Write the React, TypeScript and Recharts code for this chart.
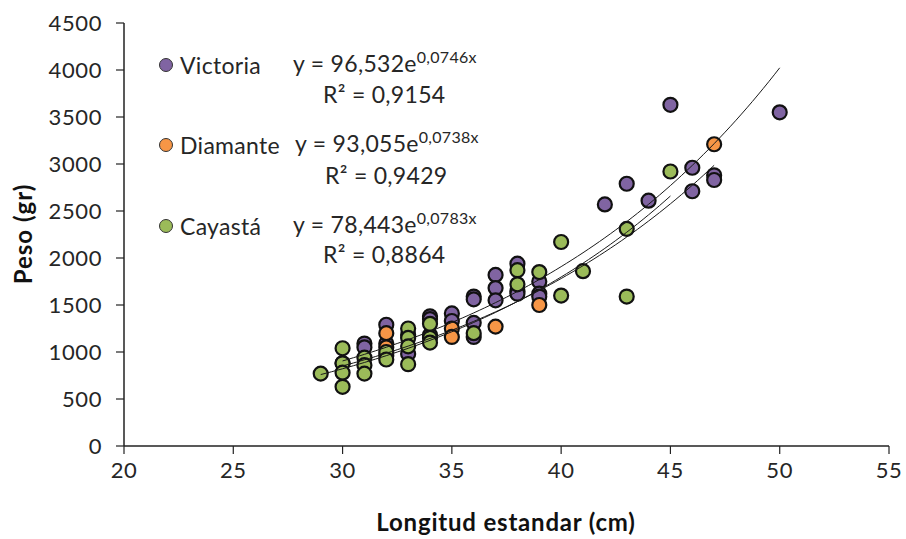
import React from "react";
import { ScatterChart, Scatter, XAxis, YAxis } from "recharts";

// Longitud estandar (cm) / Peso (gr) per population
const victoriaLength = [30, 31, 31, 32, 32, 32, 33, 33, 34, 34, 34, 35, 35, 36, 36, 36, 36, 37, 37, 37, 38, 38, 38, 39, 39, 39, 42, 43, 44, 45, 46, 46, 47, 47, 50];
const victoriaWeight = [880, 1090, 1050, 1290, 1090, 960, 1180, 980, 1380, 1350, 1180, 1410, 1330, 1590, 1560, 1310, 1160, 1820, 1680, 1550, 1940, 1650, 1620, 1750, 1620, 1590, 2570, 2790, 2610, 3630, 2960, 2710, 2880, 2830, 3550];

const diamanteLength = [32, 32, 35, 35, 37, 39, 47];
const diamanteWeight = [1200, 1050, 1250, 1160, 1270, 1500, 3210];

const cayastaLength = [29, 30, 30, 30, 30, 31, 31, 31, 32, 32, 33, 33, 33, 33, 34, 34, 34, 36, 38, 38, 39, 40, 40, 41, 43, 43, 45];
const cayastaWeight = [770, 1040, 880, 780, 630, 940, 860, 770, 1000, 920, 1250, 1150, 1060, 870, 1300, 1150, 1100, 1200, 1870, 1720, 1850, 2170, 1600, 1860, 2310, 1590, 2920];

// exponential trend lines y = a·e^(b·x), as printed on the chart
const seriesNames = ["Victoria", "Diamante", "Cayastá"];
const seriesColors = ["#8064A2", "#F79646", "#9BBB59"];
const trendA = ["96,532", "93,055", "78,443"];
const trendB = ["0,0746", "0,0738", "0,0783"];
const trendR2 = ["0,9154", "0,9429", "0,8864"];
const trendFrom = [30, 30, 29];
const trendTo = [50, 47, 45];

const xTicks = [20, 25, 30, 35, 40, 45, 50, 55];
const yTicks = [0, 500, 1000, 1500, 2000, 2500, 3000, 3500, 4000, 4500];

const toPoints = (xs: number[], ys: number[]) => xs.map((x, i) => ({ x, y: ys[i] }));
const num = (s: string) => parseFloat(s.replace(",", "."));

const trendPoints = (i: number) => {
  const a = num(trendA[i]);
  const b = num(trendB[i]);
  const pts = [];
  for (let x = trendFrom[i]; x <= trendTo[i] + 1e-9; x += 0.25) {
    pts.push({ x, y: a * Math.exp(b * x) });
  }
  return pts;
};

const FONT = "Lato, 'Open Sans', sans-serif";
const tickStyle = { fill: "#262626", fontSize: 22, fontFamily: FONT, letterSpacing: 0.6 };

const Dot = (color: string) => (props: any) => (
  <circle cx={props.cx} cy={props.cy} r={7} fill={color} stroke="#111" strokeWidth={2.2} />
);

const NoDot = () => <g />;

const legendRows = [
  { y: 65, eqX: 293, r2X: 323, r2Y: 94 },
  { y: 145, eqX: 295, r2X: 325, r2Y: 175 },
  { y: 226, eqX: 293, r2X: 323, r2Y: 254 },
];

export default function App() {
  const data = [
    toPoints(victoriaLength, victoriaWeight),
    toPoints(diamanteLength, diamanteWeight),
    toPoints(cayastaLength, cayastaWeight),
  ];

  return (
    <div style={{ position: "absolute", left: 0, top: 0, width: 906, height: 539, background: "#fff", fontFamily: FONT }}>
      <ScatterChart width={906} height={539} margin={{ top: 23, right: 17, bottom: 33, left: 0 }}>
        <XAxis
          type="number"
          dataKey="x"
          domain={[20, 55]}
          ticks={xTicks}
          tickSize={8}
          tickMargin={8}
          height={60}
          axisLine={{ stroke: "#222", strokeWidth: 1.5 }}
          tickLine={{ stroke: "#222", strokeWidth: 1.2 }}
          tick={tickStyle}
          allowDataOverflow
        />
        <YAxis
          type="number"
          dataKey="y"
          domain={[0, 4500]}
          ticks={yTicks}
          tickSize={8}
          tickMargin={14}
          width={124}
          axisLine={{ stroke: "#222", strokeWidth: 1.5 }}
          tickLine={{ stroke: "#222", strokeWidth: 1.2 }}
          tick={tickStyle}
          allowDataOverflow
        />
        {data.map((d, i) => (
          <Scatter key={seriesNames[i]} name={seriesNames[i]} data={d} shape={Dot(seriesColors[i])} isAnimationActive={false} />
        ))}
        {seriesNames.map((n, i) => (
          <Scatter
            key={"trend-" + n}
            data={trendPoints(i)}
            line={{ stroke: "#1a1a1a", strokeWidth: 1 }}
            lineType="joint"
            shape={NoDot}
            isAnimationActive={false}
          />
        ))}
      </ScatterChart>

      <svg width={906} height={539} style={{ position: "absolute", left: 0, top: 0, pointerEvents: "none" }}>
        <text
          x={22}
          y={234}
          transform="rotate(-90 22 234)"
          textAnchor="middle"
          dominantBaseline="central"
          fontFamily={FONT}
          fontWeight={700}
          fontSize={24}
          letterSpacing={1}
          fill="#111"
        >
          Peso (gr)
        </text>
        <text
          x={506}
          y={521}
          textAnchor="middle"
          dominantBaseline="central"
          fontFamily={FONT}
          fontWeight={700}
          fontSize={24}
          letterSpacing={0.8}
          fill="#111"
        >
          Longitud estandar (cm)
        </text>
        {legendRows.map((r, i) => (
          <g key={i} fontFamily={FONT} fontSize={23} fill="#262626" letterSpacing={0.3}>
            <circle cx={166} cy={r.y} r={6.5} fill={seriesColors[i]} stroke="#333" strokeWidth={1} />
            <text x={180} y={r.y} dominantBaseline="central">
              {seriesNames[i]}
            </text>
            <text x={r.eqX} y={r.y - 2} dominantBaseline="central">
              {"y = " + trendA[i] + "e"}
              <tspan fontSize={16} dy={-7}>
                {trendB[i] + "x"}
              </tspan>
            </text>
            <text x={r.r2X} y={r.r2Y} dominantBaseline="central">
              {"R² = " + trendR2[i]}
            </text>
          </g>
        ))}
      </svg>
    </div>
  );
}
